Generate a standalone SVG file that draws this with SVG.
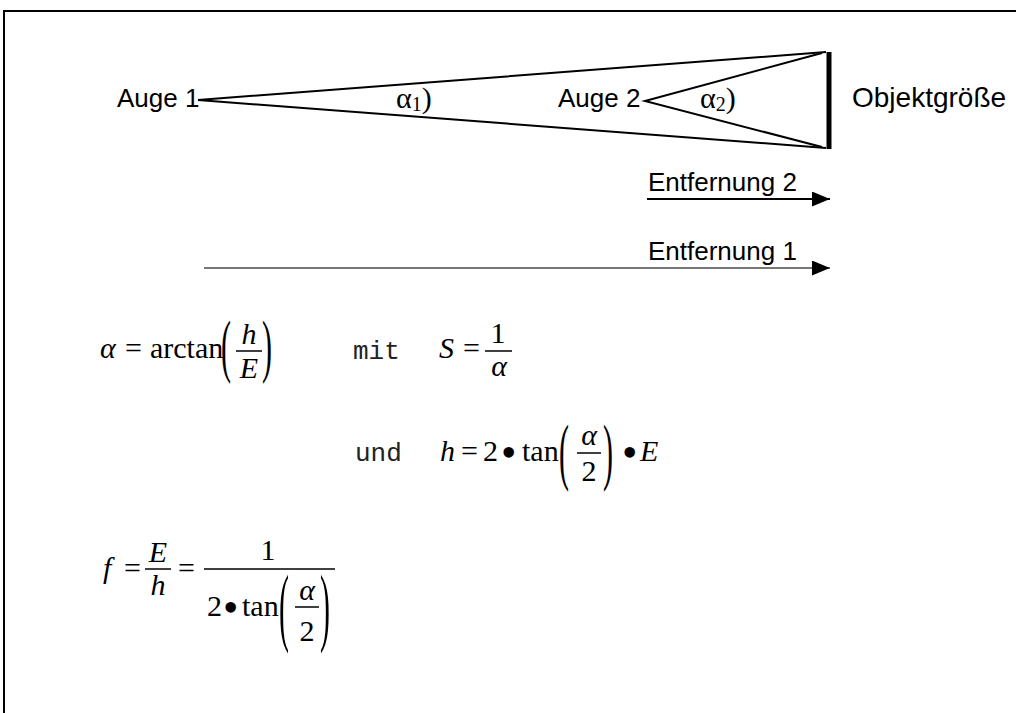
<svg xmlns="http://www.w3.org/2000/svg" width="1016" height="713" viewBox="0 0 1016 713">
<style>
.sans{font-family:"Liberation Sans",Arial,sans-serif;fill:#000;}
.serif{font-family:"Liberation Serif","Times New Roman",serif;font-size:30px;fill:#000;}
.it{font-style:italic;}
.mono{font-family:"Liberation Mono","Courier New",monospace;font-size:26px;fill:#222;}
.ln{stroke:#000;stroke-width:2;fill:none;}
.bar{stroke:#000;stroke-width:1.5;}
.mid{text-anchor:middle;}
.dot{font-family:"Liberation Serif","Times New Roman",serif;font-size:44px;fill:#000;}
</style>
<defs>
<marker id="ah" markerWidth="18" markerHeight="15" refX="18" refY="7.5" orient="auto" markerUnits="userSpaceOnUse">
<path d="M0,0 L18,7.5 L0,15 Z" fill="#000"/>
</marker>
</defs>
<rect x="4" y="11" width="1100" height="800" fill="#fff" stroke="#000" stroke-width="2"/>

<g id="connectors">
<polyline class="ln" points="826,52 198,100 826,148"/>
<polyline class="ln" points="822,53 645,101 822,147"/>
<line x1="829" y1="52" x2="829" y2="149" stroke="#000" stroke-width="5"/>
<line x1="647" y1="199" x2="830" y2="199" stroke="#000" stroke-width="2" marker-end="url(#ah)"/>
<line x1="204" y1="268" x2="830" y2="268" stroke="#777" stroke-width="2.2" marker-end="url(#ah)"/>
</g>

<g id="auge1"><text class="sans" x="117" y="107" font-size="26">Auge 1</text></g>
<g id="auge2"><text class="sans" x="558" y="107" font-size="26">Auge 2</text></g>
<g id="objekt"><text class="sans" x="852" y="107" font-size="28">Objektgröße</text></g>
<g id="alpha1"><text class="serif" x="396" y="108" font-size="32">α<tspan font-size="20" dy="3">1</tspan><tspan dy="-3">)</tspan></text></g>
<g id="alpha2"><text class="serif" x="700" y="108" font-size="32">α<tspan font-size="20" dy="3">2</tspan><tspan dy="-3">)</tspan></text></g>
<g id="entf2"><text class="sans" x="648" y="191" font-size="26">Entfernung 2</text></g>
<g id="entf1"><text class="sans" x="648" y="260" font-size="26">Entfernung 1</text></g>

<g id="formel1">
<text class="serif it" x="100" y="358" font-size="32">α</text>
<text class="serif" x="125" y="358">=</text>
<text class="serif" x="150" y="358">arctan</text>
<text class="serif" transform="translate(221,369) scale(1,2.3)">(</text>
<text class="serif it mid" x="249" y="344">h</text>
<line class="bar" x1="236" y1="351" x2="262" y2="351"/>
<text class="serif it mid" x="249" y="378">E</text>
<text class="serif" transform="translate(262,369) scale(1,2.3)">)</text>
<text class="mono" x="353" y="359">mit</text>
<text class="serif it" x="439" y="358">S</text>
<text class="serif" x="463" y="358">=</text>
<text class="serif mid" x="498" y="343">1</text>
<line class="bar" x1="485" y1="351" x2="512" y2="351"/>
<text class="serif it mid" x="499" y="376" font-size="32">α</text>
</g>

<g id="formel2">
<text class="mono" x="355" y="461">und</text>
<text class="serif it" x="440" y="461">h</text>
<text class="serif" x="461" y="461">=</text>
<text class="serif" x="483" y="461">2</text>
<text class="dot" x="501" y="467">•</text>
<text class="serif" x="522" y="461">tan</text>
<text class="serif" transform="translate(559,476) scale(1,2.5)">(</text>
<text class="serif it mid" x="589" y="445" font-size="32">α</text>
<line class="bar" x1="577" y1="453" x2="601" y2="453"/>
<text class="serif mid" x="589" y="481">2</text>
<text class="serif" transform="translate(603,476) scale(1,2.5)">)</text>
<text class="dot" x="622" y="467">•</text>
<text class="serif it" x="640" y="461">E</text>
</g>

<g id="formel3">
<text class="serif it" x="103" y="578">f</text>
<text class="serif" x="124" y="578">=</text>
<text class="serif it mid" x="158" y="562">E</text>
<line class="bar" x1="145" y1="569" x2="171" y2="569"/>
<text class="serif it mid" x="158" y="595">h</text>
<text class="serif" x="178" y="578">=</text>
<text class="serif mid" x="268" y="560">1</text>
<line class="bar" x1="204" y1="569" x2="335" y2="569"/>
<text class="serif" x="207" y="616">2</text>
<text class="dot" x="223" y="622">•</text>
<text class="serif" x="242" y="616">tan</text>
<text class="serif" transform="translate(279,635) scale(1,2.9)">(</text>
<text class="serif it mid" x="307" y="600" font-size="32">α</text>
<line class="bar" x1="295" y1="607" x2="319" y2="607"/>
<text class="serif mid" x="307" y="641">2</text>
<text class="serif" transform="translate(320,635) scale(1,2.9)">)</text>
</g>
</svg>
